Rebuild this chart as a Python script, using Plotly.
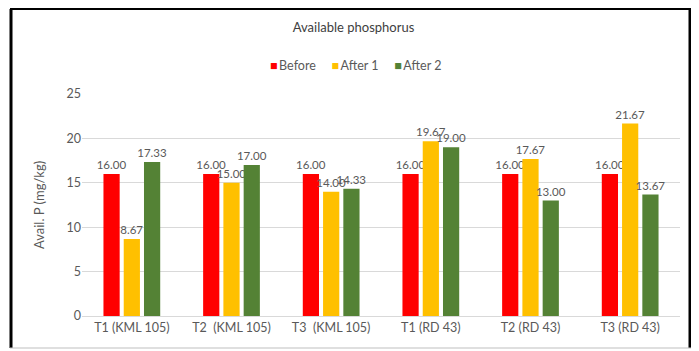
import plotly.graph_objects as go

categories = ["T1 (KML 105)", "T2  (KML 105)", "T3  (KML 105)", "T1 (RD 43)", "T2 (RD 43)", "T3 (RD 43)"]
before = [16.00, 16.00, 16.00, 16.00, 16.00, 16.00]
after1 = [8.67, 15.00, 14.00, 19.67, 17.67, 21.67]
after2 = [17.33, 17.00, 14.33, 19.00, 13.00, 13.67]
series_names = ["Before", "After 1", "After 2"]
colors = ["#FF0000", "#FFC000", "#548235"]
y_ticks = [0, 5, 10, 15, 20, 25]

OFF = 8  # page body margin
W, H = 699 - OFF, 351 - OFF
ML, MR, MT, MB = 82 - OFF, 19, 94 - OFF, 35
PW, PH = W - ML - MR, H - MT - MB

def px(x):
    return (x - OFF - ML) / PW

def py(y):
    return (H - MB - (y - OFF)) / PH

fig = go.Figure()
for name, vals, col in zip(series_names, [before, after1, after2], colors):
    fig.add_trace(go.Bar(
        name=name, x=categories, y=vals, marker_color=col,
        marker_line_width=0,
        text=[f"{v:.2f}" for v in vals], textposition="outside",
        constraintext="none",
        textfont=dict(size=11.5, color="#595959"), cliponaxis=False,
        showlegend=False,
    ))

# compact legend like the original (Excel style)
legend_text = "\u2003\u2002".join(
    f"<span style='color:{c}'>■</span>\u2009{n}" for n, c in zip(series_names, colors)
)
fig.add_annotation(text=legend_text, xref="paper", yref="paper", x=px(355), y=py(65),
                   xanchor="center", yanchor="middle", showarrow=False,
                   font=dict(size=12.5, color="#595959"))

fig.update_layout(
    width=W, height=H,
    margin=dict(l=ML, r=MR, t=MT, b=MB, autoexpand=False),
    paper_bgcolor="white", plot_bgcolor="white",
    font=dict(family="Lato, Open Sans, sans-serif", color="#595959", size=12),
    title=dict(text="Available phosphorus", x=0.5, xanchor="center",
               y=1 - (27 - OFF) / H, yanchor="middle", font=dict(size=13, color="#404040")),
    barmode="group", bargap=0.39, bargroupgap=0.2,
    xaxis=dict(showgrid=False, showline=True, linecolor="#d9d9d9", ticks="",
               automargin=False, tickfont=dict(size=12.5, color="#595959")),
    yaxis=dict(range=[0, 25], tickvals=y_ticks, showgrid=True, gridcolor="#d9d9d9",
               zeroline=False, showline=False, ticks="", automargin=False,
               tickfont=dict(size=12.5, color="#595959"),
               title=dict(text="Avail. P (mg/kg)", font=dict(size=13, color="#595959"),
                          standoff=18)),
)

# outer frame
fig.add_shape(type="line", xref="paper", yref="paper", x0=px(11), x1=px(11), y0=py(9), y1=py(348),
              line=dict(color="black", width=3))
fig.add_shape(type="line", xref="paper", yref="paper", x0=px(690), x1=px(690), y0=py(9), y1=py(348),
              line=dict(color="black", width=3))
fig.add_shape(type="line", xref="paper", yref="paper", x0=px(10), x1=px(691), y0=py(9), y1=py(9),
              line=dict(color="black", width=2))
fig.add_shape(type="line", xref="paper", yref="paper", x0=px(10), x1=px(691), y0=py(348), y1=py(348),
              line=dict(color="#bfbfbf", width=1))

fig.write_html("out.html")
